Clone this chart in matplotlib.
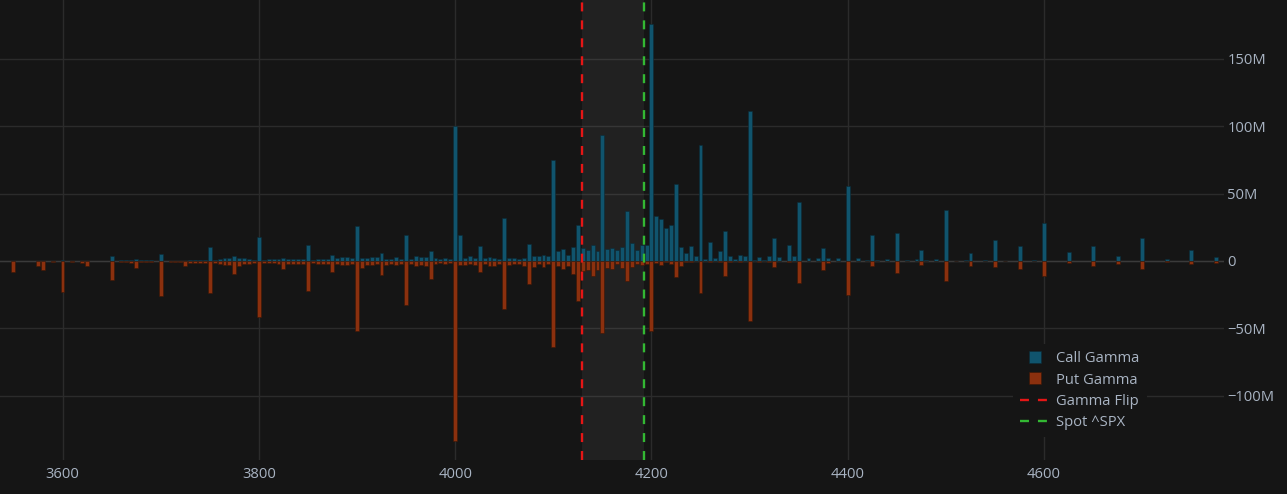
import matplotlib
matplotlib.use("Agg")
import matplotlib.pyplot as plt
from matplotlib.lines import Line2D
from matplotlib.ticker import FuncFormatter, FixedLocator

# ---------------- data (gamma exposure, millions) ----------------
strikes = [
    3550, 3575, 3580, 3590, 3600, 3610, 3620, 3625, 3650, 3660, 3665, 3670, 3675, 3680, 3685, 3690,
    3700, 3710, 3715, 3720, 3725, 3730, 3735, 3740, 3745, 3750, 3755, 3760, 3765, 3770, 3775, 3780,
    3785, 3790, 3795, 3800, 3805, 3810, 3815, 3820, 3825, 3830, 3835, 3840, 3845, 3850, 3855, 3860,
    3865, 3870, 3875, 3880, 3885, 3890, 3895, 3900, 3905, 3910, 3915, 3920, 3925, 3930, 3935, 3940,
    3945, 3950, 3955, 3960, 3965, 3970, 3975, 3980, 3985, 3990, 3995, 4000, 4005, 4010, 4015, 4020,
    4025, 4030, 4035, 4040, 4045, 4050, 4055, 4060, 4065, 4070, 4075, 4080, 4085, 4090, 4095, 4100,
    4105, 4110, 4115, 4120, 4125, 4130, 4135, 4140, 4145, 4150, 4155, 4160, 4165, 4170, 4175, 4180,
    4185, 4190, 4195, 4200, 4205, 4210, 4215, 4220, 4225, 4230, 4235, 4240, 4245, 4250, 4255, 4260,
    4265, 4270, 4275, 4280, 4285, 4290, 4295, 4300, 4305, 4310, 4315, 4320, 4325, 4330, 4340, 4345,
    4350, 4360, 4370, 4375, 4380, 4390, 4400, 4410, 4420, 4425, 4430, 4440, 4450, 4460, 4470, 4475,
    4480, 4490, 4500, 4510, 4520, 4525, 4540, 4550, 4560, 4575, 4590, 4600, 4625, 4650, 4675, 4700,
    4725, 4750, 4775,
]
call_gamma = [
    0.3, 0.2, 0.2, 0.3, 0.8, 0.3, 0.2, 0.3, 3.7, 0.5, 0.5, 0.5, 1.7, 0.5, 0.4, 0.5,
    5.2, 0.3, 0.3, 0.3, 0.3, 1.0, 1.0, 0.5, 1.0, 10.1, 1.0, 1.5, 2.2, 2.2, 3.7, 2.2,
    2.0, 1.5, 1.0, 17.8, 1.0, 1.5, 1.5, 1.7, 2.2, 1.5, 1.5, 1.5, 1.5, 11.6, 1.0, 1.5,
    1.5, 1.5, 4.2, 2.0, 2.7, 3.0, 2.0, 26.2, 2.5, 2.5, 3.2, 2.7, 5.7, 1.2, 1.7, 2.7,
    1.7, 19.0, 1.2, 3.5, 2.7, 3.0, 7.2, 2.0, 1.2, 2.0, 1.2, 100.5, 19.5, 2.0, 3.7, 2.5,
    10.9, 2.0, 3.2, 2.5, 1.2, 31.6, 2.5, 2.5, 1.7, 2.5, 12.4, 3.5, 3.7, 4.5, 4.0, 74.7,
    7.2, 8.7, 4.7, 10.4, 26.8, 9.5, 7.9, 12.1, 7.2, 93.5, 8.7, 9.4, 7.9, 10.6, 37.0, 13.6,
    7.9, 11.8, 11.5, 176.0, 33.2, 31.3, 24.7, 27.0, 57.4, 10.2, 5.9, 11.2, 4.0, 86.2, 1.8, 13.8,
    2.5, 7.5, 21.9, 3.7, 1.8, 4.8, 3.5, 111.3, 1.1, 3.2, 1.1, 3.8, 17.0, 3.1, 11.8, 3.8,
    43.8, 2.5, 2.0, 9.5, 2.0, 2.0, 55.4, 2.5, 1.0, 19.3, 1.0, 1.7, 21.0, 0.7, 1.5, 8.2,
    1.0, 1.7, 38.1, 0.3, 0.7, 6.2, 0.5, 15.8, 0.3, 10.9, 0.7, 28.4, 6.9, 11.4, 4.0, 16.8,
    1.7, 8.2, 3.2,
]
put_gamma = [
    -8.4, -3.5, -6.7, -0.5, -22.8, -0.6, -1.2, -4.0, -14.0, -1.0, -1.0, -1.2, -5.2, -1.0, -0.8, -1.0,
    -26.0, -0.7, -0.5, -0.7, -4.0, -1.5, -1.5, -1.5, -1.5, -23.5, -1.5, -2.0, -2.7, -3.0, -9.6, -3.5,
    -2.5, -2.0, -1.5, -41.3, -1.5, -1.5, -1.5, -2.0, -6.0, -2.0, -2.0, -2.0, -2.0, -22.0, -1.5, -2.5,
    -2.0, -2.0, -8.5, -2.5, -3.2, -3.2, -2.0, -52.0, -5.4, -3.2, -3.2, -2.5, -10.4, -3.2, -2.0, -3.2,
    -2.0, -33.0, -2.0, -4.0, -3.2, -4.0, -13.6, -2.0, -1.5, -2.5, -1.5, -133.5, -3.0, -3.0, -2.5, -3.0,
    -8.4, -2.5, -3.7, -3.7, -2.0, -35.6, -3.2, -2.5, -2.5, -4.0, -16.8, -4.5, -2.5, -4.5, -2.5, -63.5,
    -4.0, -5.7, -4.0, -9.4, -30.0, -7.8, -6.9, -11.4, -6.9, -53.6, -4.9, -5.7, -2.0, -4.9, -15.0, -4.5,
    -2.5, -3.0, -2.0, -52.2, -1.3, -2.8, -0.8, -2.1, -11.9, -4.0, -0.5, -0.8, -0.3, -24.1, -0.3, -1.1,
    -0.3, -1.1, -11.2, -1.1, -0.3, -0.8, -0.3, -44.8, -0.3, -0.8, -0.2, -0.8, -4.6, -0.3, -0.8, -0.3,
    -16.3, -0.3, -0.2, -6.4, -1.5, -0.2, -25.5, -0.2, -0.2, -4.0, -0.2, -0.2, -8.9, -0.1, -0.2, -3.2,
    -0.2, -0.2, -15.1, -0.1, -0.1, -4.0, -0.1, -4.7, -0.1, -5.9, -0.1, -11.4, -1.5, -3.5, -2.0, -5.7,
    -1.0, -2.5, -1.5,
]
gamma_flip = 4128.8
spot_price = 4192.2
x_ticks = [3600, 3800, 4000, 4200, 4400, 4600]
y_ticks_m = [-100, -50, 0, 50, 100, 150]
legend_labels = ["Call Gamma", "Put Gamma", "Gamma Flip", "Spot ^SPX"]

# ---------------- style ----------------
BG = "#151515"
TXT = "#a9b4c3"
GRID = "#2b2b2b"
CALL_C = "#10546d"
PUT_C = "#8b300e"
FLIP_C = "#e51616"
SPOT_C = "#33b833"

plt.rcParams["font.family"] = ["Open Sans", "DejaVu Sans"]
plt.rcParams["axes.unicode_minus"] = True

W, H = 1287, 494
fig = plt.figure(figsize=(W / 100, H / 100), dpi=100, facecolor=BG)
ax = fig.add_axes([0 / W, (H - 460) / H, 1224 / W, 460 / H])
ax.set_facecolor(BG)

calls = [v * 1e6 for v in call_gamma]
puts = [v * 1e6 for v in put_gamma]

ax.bar(strikes, calls, width=4, color=CALL_C, edgecolor="#0b2a36", linewidth=0.4, zorder=3)
ax.bar(strikes, puts, width=4, color=PUT_C, edgecolor="#3a1606", linewidth=0.4, zorder=3)

ax.axvspan(gamma_flip, spot_price, color="white", alpha=0.055, lw=0, zorder=1)
ax.axvline(gamma_flip, color=FLIP_C, lw=1.7, dashes=(3.8, 3.8), zorder=4)
ax.axvline(spot_price, color=SPOT_C, lw=1.7, dashes=(3.8, 3.8), zorder=4)

ax.set_xlim(3536.3, 4783.3)
ax.set_ylim(-147.7e6, 193.7e6)

ax.xaxis.set_major_locator(FixedLocator(x_ticks))
ax.yaxis.set_major_locator(FixedLocator([v * 1e6 for v in y_ticks_m]))


def fmt_m(v, pos):
    m = int(round(v / 1e6))
    if m == 0:
        return "0"
    return ("\u2212" if m < 0 else "") + f"{abs(m)}M"


ax.yaxis.set_major_formatter(FuncFormatter(fmt_m))
ax.yaxis.tick_right()
ax.tick_params(axis="both", length=0, colors=TXT, labelsize=10.6)
ax.tick_params(axis="x", pad=5)
ax.tick_params(axis="y", pad=2.5)
for lab in ax.get_yticklabels():
    lab.set_horizontalalignment("left")

ax.grid(True, color=GRID, lw=1.0, zorder=0)
ax.set_axisbelow(True)
ax.axhline(0, color="#3a3a3a", lw=1.0, zorder=2)
for s in ax.spines.values():
    s.set_visible(False)

handles = [
    Line2D([], [], marker="s", markersize=8.6, linestyle="none", color=CALL_C, markeredgecolor="#0b2a36", markeredgewidth=0.4),
    Line2D([], [], marker="s", markersize=8.6, linestyle="none", color=PUT_C, markeredgecolor="#3a1606", markeredgewidth=0.4),
    Line2D([], [], color=FLIP_C, lw=1.7, dashes=(3.8, 3.8)),
    Line2D([], [], color=SPOT_C, lw=1.7, dashes=(3.8, 3.8)),
]
leg = ax.legend(
    handles, legend_labels,
    loc="upper left", bbox_to_anchor=(1013 / 1224, (460 - 344) / 460),
    frameon=True, facecolor=BG, edgecolor="none", framealpha=1.0,
    fontsize=10.6, labelcolor=TXT, handlelength=2.0, handletextpad=0.45,
    labelspacing=0.42, borderpad=0.5, borderaxespad=0.0, fancybox=False,
)
leg.set_zorder(10)

fig.savefig("out.png", dpi=100, facecolor=BG)
